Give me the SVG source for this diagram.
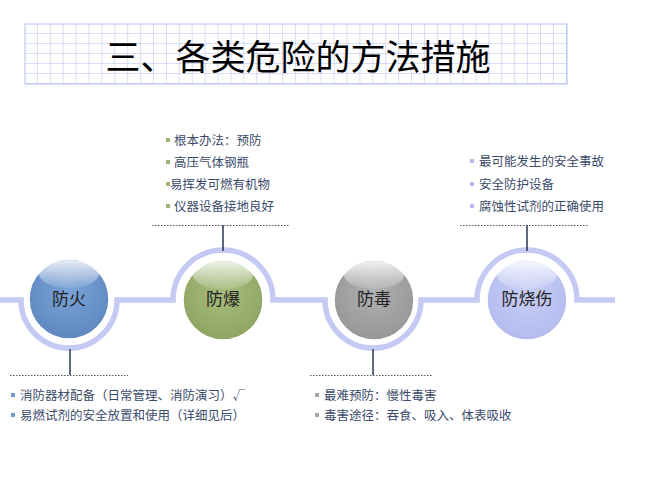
<svg xmlns="http://www.w3.org/2000/svg" width="660" height="496" viewBox="0 0 660 496">
<defs>
<pattern id="grid" x="25" y="24" width="12.9" height="10" patternUnits="userSpaceOnUse">
<path d="M12.9 0V10M0 10H12.9" fill="none" stroke="#b4bcf0" stroke-width="1"/>
</pattern>
<linearGradient id="gloss" x1="0" y1="0" x2="0" y2="1">
<stop offset="0" stop-color="#fff" stop-opacity="0.85"/>
<stop offset="1" stop-color="#fff" stop-opacity="0.1"/>
</linearGradient>
<radialGradient id="gb" cx="0.5" cy="0.4" r="0.6"><stop offset="0" stop-color="#7aa3d6"/><stop offset="1" stop-color="#5f88c2"/></radialGradient>
<radialGradient id="gg" cx="0.5" cy="0.4" r="0.6"><stop offset="0" stop-color="#a8bd7d"/><stop offset="1" stop-color="#8ea562"/></radialGradient>
<radialGradient id="gy" cx="0.5" cy="0.4" r="0.6"><stop offset="0" stop-color="#b0b0b0"/><stop offset="1" stop-color="#979797"/></radialGradient>
<radialGradient id="gl" cx="0.5" cy="0.4" r="0.6"><stop offset="0" stop-color="#c9cff7"/><stop offset="1" stop-color="#b3bbee"/></radialGradient>
</defs>
<style>
.t{font-family:"Noto Sans CJK SC","Liberation Serif",serif;}
.li{font-family:"Noto Sans CJK SC",serif;font-size:12.5px;fill:#3a4a6a;}
.lb{font-family:"Noto Sans CJK SC",serif;font-size:17px;fill:#222;text-anchor:middle;}
.dot{stroke:#555;stroke-width:1;stroke-dasharray:1.5 1.5;}
.vl{stroke:#2a3550;stroke-width:1.5;}
</style>
<rect x="25" y="24" width="542" height="60" fill="url(#grid)" stroke="#b4bcf0"/>
<text class="t" x="298" y="70" font-size="35" text-anchor="middle" fill="#000">三、各类危险的方法措施</text>
<g id="connectors">
<path d="M0 300H21A48 48 0 0 0 117 300H173A50 50 0 0 1 273 300H325A48 48 0 0 0 421 300H477A50 50 0 0 1 577 300H615" fill="none" stroke="#c4caf3" stroke-width="5.5"/>
<line class="vl" x1="70" y1="349" x2="70" y2="375"/>
<line class="dot" x1="10" y1="375.5" x2="128" y2="375.5"/>
<line class="vl" x1="223" y1="225" x2="223" y2="251"/>
<line class="dot" x1="152" y1="225.5" x2="290" y2="225.5"/>
<line class="vl" x1="373" y1="349" x2="373" y2="375"/>
<line class="dot" x1="310" y1="375.5" x2="433" y2="375.5"/>
<line class="vl" x1="527" y1="225" x2="527" y2="251"/>
<line class="dot" x1="460" y1="225.5" x2="588" y2="225.5"/>
</g>
<g id="n1"><circle cx="69" cy="299" r="40" fill="url(#gb)" stroke="#fff" stroke-width="1.5"/><ellipse cx="69" cy="274" rx="30" ry="14" fill="url(#gloss)"/><text class="lb" x="69" y="305">防火</text></g>
<g id="n2"><circle cx="223" cy="300" r="40" fill="url(#gg)" stroke="#fff" stroke-width="1.5"/><ellipse cx="223" cy="275" rx="30" ry="14" fill="url(#gloss)"/><text class="lb" x="223" y="305">防爆</text></g>
<g id="n3"><circle cx="374" cy="300" r="40" fill="url(#gy)" stroke="#fff" stroke-width="1.5"/><ellipse cx="374" cy="275" rx="30" ry="14" fill="url(#gloss)"/><text class="lb" x="374" y="305">防毒</text></g>
<g id="n4"><circle cx="527" cy="300" r="40" fill="url(#gl)" stroke="#fff" stroke-width="1.5"/><ellipse cx="527" cy="275" rx="30" ry="14" fill="url(#gloss)"/><text class="lb" x="527" y="305">防烧伤</text></g>
<g id="list-top">
<g fill="#9fb574"><rect x="166" y="138" width="4" height="4"/><rect x="166" y="160" width="4" height="4"/><rect x="166" y="182" width="4" height="4"/><rect x="166" y="204" width="4" height="4"/></g>
<text class="li" x="174" y="145">根本办法：预防</text>
<text class="li" x="174" y="167">高压气体钢瓶</text>
<text class="li" x="170" y="189">易挥发可燃有机物</text>
<text class="li" x="174" y="211">仪器设备接地良好</text>
<g fill="#b3bbee"><rect x="470" y="159" width="4" height="4"/><rect x="470" y="182" width="4" height="4"/><rect x="470" y="204" width="4" height="4"/></g>
<text class="li" x="479" y="166">最可能发生的安全事故</text>
<text class="li" x="479" y="189">安全防护设备</text>
<text class="li" x="479" y="211">腐蚀性试剂的正确使用</text>
</g>
<g id="list-bottom">
<g fill="#6f9ad0"><rect x="11" y="393" width="4" height="4"/><rect x="11" y="413" width="4" height="4"/></g>
<text class="li" x="20" y="400">消防器材配备（日常管理、消防演习）√</text>
<text class="li" x="20" y="420">易燃试剂的安全放置和使用（详细见后）</text>
<g fill="#a8a8a8"><rect x="315" y="393" width="4" height="4"/><rect x="315" y="413" width="4" height="4"/></g>
<text class="li" x="324" y="400">最难预防：慢性毒害</text>
<text class="li" x="324" y="420">毒害途径：吞食、吸入、体表吸收</text>
</g>
</svg>
